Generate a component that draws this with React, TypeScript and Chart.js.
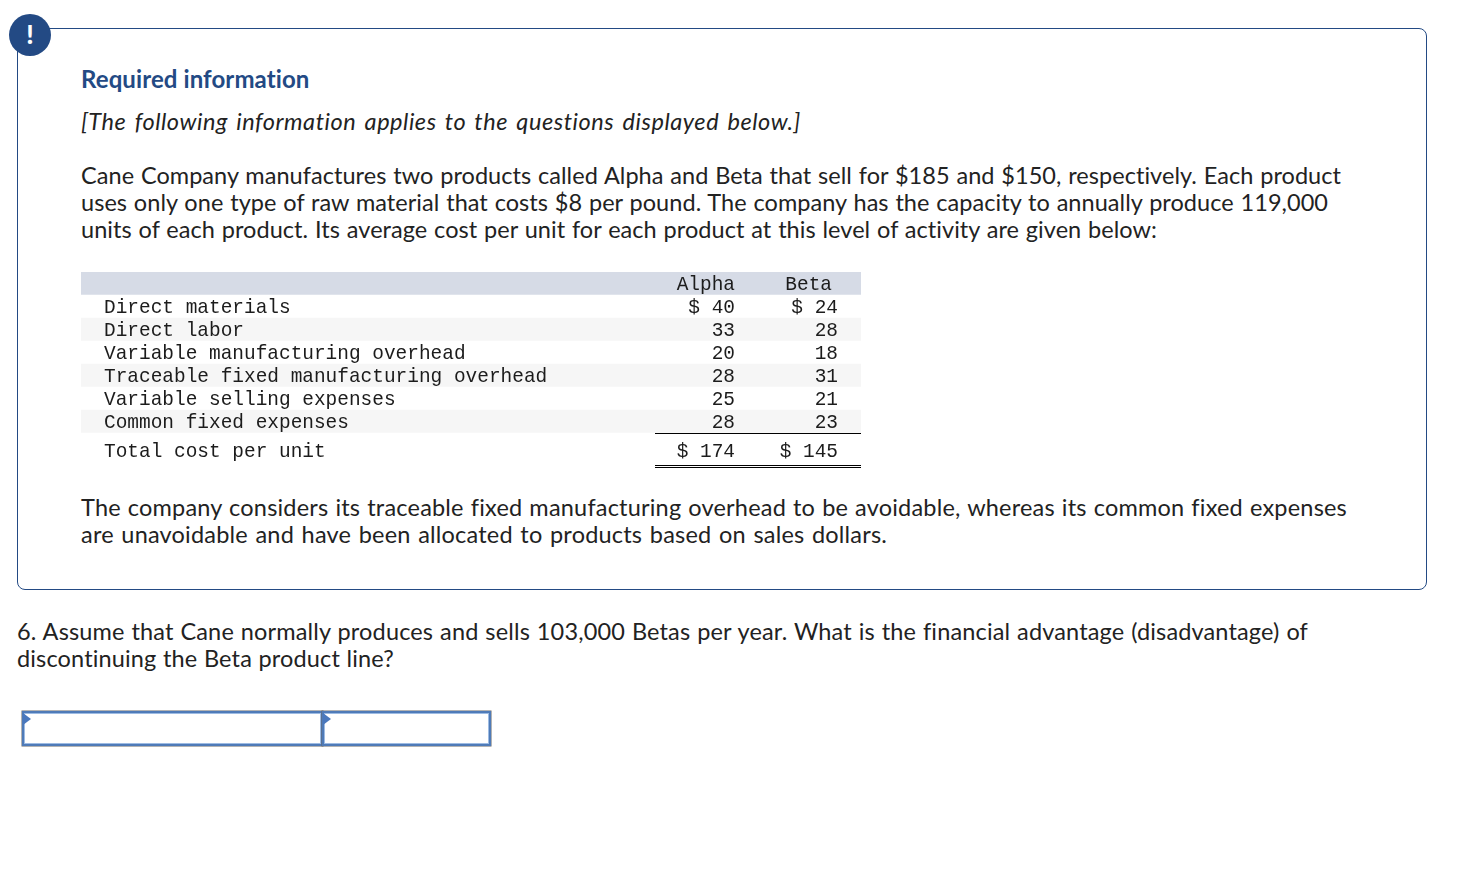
import { useEffect, useRef } from 'react';
import { Chart, registerables } from 'chart.js';

Chart.register(...registerables);

const rowLabels = [
  '',
  'Direct materials',
  'Direct labor',
  'Variable manufacturing overhead',
  'Traceable fixed manufacturing overhead',
  'Variable selling expenses',
  'Common fixed expenses',
  'Total cost per unit',
];
const alphaCosts = ['Alpha', '$ 40', '33', '20', '28', '25', '28', '$ 174'];
const betaCosts = ['Beta', '$ 24', '28', '18', '31', '21', '23', '$ 145'];
const bandColors = ['#d6dbe6', '#ffffff', '#f6f6f6', '#ffffff', '#f6f6f6', '#ffffff', '#f6f6f6', '#ffffff'];

const TABLE_W = 780;
const FONT = '"Lato", sans-serif';
const MONO = '19.45px "Liberation Mono", monospace';
const BLUE = '#234a84';

// left, width, center y, letter spacing, text, italic
const prose: Array<[number, number, number, number, string, boolean?]> = [
  [81, 720, 121, 0.55, '[The following information applies to the questions displayed below.]', true],
  [81, 1260, 175, 0.05, 'Cane Company manufactures two products called Alpha and Beta that sell for $185 and $150, respectively. Each product'],
  [81, 1247, 202, 0.05, 'uses only one type of raw material that costs $8 per pound. The company has the capacity to annually produce 119,000'],
  [81, 1076, 229, 0.05, 'units of each product. Its average cost per unit for each product at this level of activity are given below:'],
  [81, 1266, 507, 0.2, 'The company considers its traceable fixed manufacturing overhead to be avoidable, whereas its common fixed expenses'],
  [81, 806, 534, 0.2, 'are unavoidable and have been allocated to products based on sales dollars.'],
  [17, 1291, 631, 0.15, '6. Assume that Cane normally produces and sells 103,000 Betas per year. What is the financial advantage (disadvantage) of'],
  [17, 377, 658, 0.15, 'discontinuing the Beta product line?'],
];

const tableText = {
  id: 'tableText',
  afterDatasetsDraw(chart: Chart) {
    const { ctx, scales } = chart;
    const x = scales.x;
    const y = scales.y;
    ctx.save();
    ctx.font = MONO;
    ctx.fillStyle = '#1c1c1c';
    ctx.textBaseline = 'middle';
    rowLabels.forEach((label, i) => {
      // the total row sits a little lower than the others
      const py = y.getPixelForValue(i) + (i === rowLabels.length - 1 ? 7.5 : 1.5);
      ctx.textAlign = 'left';
      ctx.fillText(label, x.getPixelForValue(23), py);
      ctx.textAlign = 'right';
      ctx.fillText(alphaCosts[i], x.getPixelForValue(654), py);
      ctx.fillText(betaCosts[i], x.getPixelForValue(i === 0 ? 751 : 757), py);
    });
    // sum rules under the cost rows
    ctx.strokeStyle = '#000000';
    ctx.lineWidth = 1;
    const x0 = x.getPixelForValue(574);
    const x1 = x.getPixelForValue(TABLE_W);
    [161.5, 193.5, 195.5].forEach((py) => {
      ctx.beginPath();
      ctx.moveTo(x0, py);
      ctx.lineTo(x1, py);
      ctx.stroke();
    });
    ctx.restore();
  },
};

function CostTable() {
  const canvasRef = useRef<HTMLCanvasElement>(null);

  useEffect(() => {
    if (!canvasRef.current) return;
    const chart = new Chart(canvasRef.current, {
      type: 'bar',
      data: {
        labels: rowLabels,
        datasets: [{
          data: rowLabels.map(() => [0, TABLE_W]),
          backgroundColor: bandColors,
          borderWidth: 0,
          barPercentage: 1,
          categoryPercentage: 1,
        }],
      },
      options: {
        indexAxis: 'y',
        animation: false,
        responsive: false,
        layout: { padding: { bottom: 16 } },
        scales: {
          x: { type: 'linear', display: false, min: 0, max: TABLE_W },
          y: { type: 'category', display: false },
        },
        plugins: { legend: { display: false }, tooltip: { enabled: false } },
      },
      plugins: [tableText],
    });
    return () => { chart.destroy(); };
  }, []);

  return (
    <canvas
      ref={canvasRef}
      width={TABLE_W}
      height={200}
      style={{ position: 'absolute', left: 81, top: 272, width: TABLE_W, height: 200 }}
    />
  );
}

function AnswerCell({ left, width }: { left: number; width: number }) {
  return (
    <div style={{ position: 'absolute', left, top: 711, width, height: 35, boxSizing: 'border-box', border: '2px solid #4f7bb8', boxShadow: 'inset 0 0 0 1px #9dbbe3, 0 0 0 0.5px #666' }}>
      <div style={{ position: 'absolute', left: -1, top: 0, width: 0, height: 0, borderLeft: '8px solid #4a78bd', borderTop: '6px solid transparent', borderBottom: '6px solid transparent' }} />
    </div>
  );
}

export default function App() {
  return (
    <div style={{ position: 'fixed', inset: 0, background: '#fff', fontFamily: FONT, color: '#222', overflow: 'hidden' }}>
      <div style={{ position: 'absolute', left: 17, top: 28, width: 1410, height: 562, boxSizing: 'border-box', border: `1px solid ${BLUE}`, borderRadius: 8 }} />
      <div style={{ position: 'absolute', left: 9, top: 14, width: 42, height: 42, borderRadius: '50%', background: BLUE, color: '#fff', textAlign: 'center', fontWeight: 900, fontSize: 26, lineHeight: '40px' }}>!</div>
      <div style={{ position: 'absolute', left: 81, top: 64, fontSize: 24, letterSpacing: 0.1, lineHeight: '30px', fontWeight: 700, color: BLUE, whiteSpace: 'nowrap' }}>Required information</div>
      {prose.map(([left, width, cy, spacing, text, italic]) => (
        <div
          key={text}
          style={{ position: 'absolute', left, top: cy - 15, width, fontSize: 23.5, letterSpacing: spacing, lineHeight: '30px', fontStyle: italic ? 'italic' : 'normal', textAlign: 'justify', textAlignLast: 'justify', whiteSpace: 'nowrap' }}
        >
          {text}
        </div>
      ))}
      <CostTable />
      <AnswerCell left={22} width={301} />
      <AnswerCell left={322} width={169} />
    </div>
  );
}
